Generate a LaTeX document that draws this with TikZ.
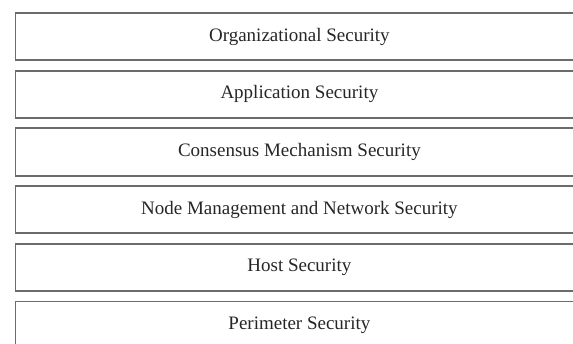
\documentclass[tikz,border=0pt]{standalone}
\usepackage{fontspec}
\setmainfont{Liberation Serif}
\begin{document}
\begin{tikzpicture}[x=1pt,y=-1pt,
  layerbox/.style={draw=black!58, line width=1.8pt, rectangle, minimum width=568pt, minimum height=47.3pt, inner sep=0pt, font=\fontsize{19}{22}\selectfont, text=black!85, anchor=north west}]
\useasboundingbox (0,0) rectangle (573,343);
\begin{scope}
\clip (0,0) rectangle (573,343);
\node[layerbox] (l1) at (14.5,12) {Organizational Security};
\node[layerbox] (l2) at (14.5,69.7) {Application Security};
\node[layerbox] (l3) at (14.5,127.4) {Consensus Mechanism Security};
\node[layerbox] (l4) at (14.5,185.1) {Node Management and Network Security};
\node[layerbox] (l5) at (14.5,242.8) {Host Security};
\node[layerbox] (l6) at (14.5,300.5) {Perimeter Security};
\end{scope}
\end{tikzpicture}
\end{document}
